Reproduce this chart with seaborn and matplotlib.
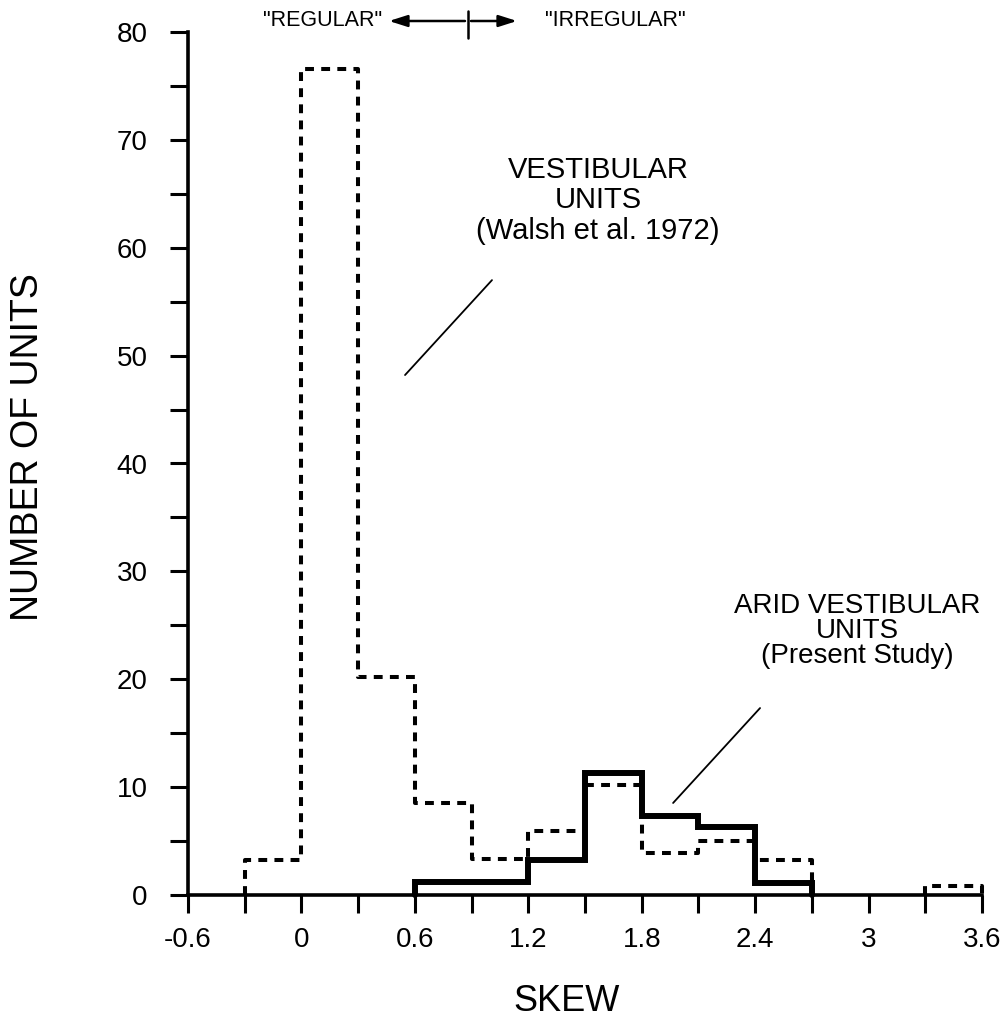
import numpy as np
import pandas as pd
import matplotlib
matplotlib.use("Agg")
import matplotlib.pyplot as plt
from matplotlib.lines import Line2D
import seaborn as sns

# ---- data ----
walsh_edges = [-0.3, 0.0, 0.3, 0.6, 0.9, 1.2, 1.5, 1.8, 2.1, 2.4, 2.7, 3.0, 3.3, 3.6]
walsh_counts = [3.2, 76.6, 20.2, 8.5, 3.3, 5.9, 10.2, 3.9, 5.0, 3.2, 0, 0, 0.8]
present_edges = [0.6, 0.9, 1.2, 1.5, 1.8, 2.1, 2.4, 2.7]
present_counts = [1.2, 1.2, 3.2, 11.3, 7.3, 6.3, 1.1]
x_ticks = [-0.6, -0.3, 0.0, 0.3, 0.6, 0.9, 1.2, 1.5, 1.8, 2.1, 2.4, 2.7, 3.0, 3.3, 3.6]
x_ticklabels = ["-0.6", "", "0", "", "0.6", "", "1.2", "", "1.8", "", "2.4", "", "3", "", "3.6"]
y_ticks = list(range(0, 81, 5))
y_ticklabels = [str(v) if v % 10 == 0 else "" for v in y_ticks]


def step_frame(edges, heights):
    """Outline of a histogram; runs of empty bins split the outline."""
    xs, ys, segs = [], [], []
    seg = 0
    i = 0
    n = len(heights)
    while i < n:
        if heights[i] == 0:
            i += 1
            continue
        j = i
        while j + 1 < n and heights[j + 1] != 0:
            j += 1
        px = [edges[i]]
        py = [0]
        for k in range(i, j + 1):
            px += [edges[k], edges[k + 1]]
            py += [heights[k], heights[k]]
        px.append(edges[j + 1])
        py.append(0)
        xs += px
        ys += py
        segs += [seg] * len(px)
        seg += 1
        i = j + 1
    return pd.DataFrame({"x": xs, "y": ys, "seg": segs})


walsh_df = step_frame(walsh_edges, walsh_counts)
present_df = step_frame(present_edges, present_counts)

sns.set_style("ticks")
plt.rcParams["font.family"] = ["Liberation Sans", "DejaVu Sans"]
plt.rcParams["text.color"] = "black"

W, H = 1008, 1021
fig = plt.figure(figsize=(W / 100, H / 100), dpi=100)
ax = fig.add_axes([188 / W, 1 - 895 / H, 794 / W, 863 / H])

sns.lineplot(data=walsh_df, x="x", y="y", units="seg", estimator=None, sort=False,
             color="black", linewidth=2.9, linestyle=(0, (2.2, 1.8)),
             dash_capstyle="butt", clip_on=False, ax=ax, zorder=3)
sns.lineplot(data=present_df, x="x", y="y", units="seg", estimator=None, sort=False,
             color="black", linewidth=4.3, solid_joinstyle="miter",
             clip_on=False, ax=ax, zorder=4)

ax.set_xlim(-0.6, 3.6)
ax.set_ylim(0, 80)
ax.set_xticks(x_ticks)
ax.set_xticklabels(x_ticklabels)
ax.set_yticks(y_ticks)
ax.set_yticklabels(y_ticklabels)
sns.despine(ax=ax)
for s in ["left", "bottom"]:
    ax.spines[s].set_linewidth(2.6)
    ax.spines[s].set_color("black")
ax.tick_params(axis="both", direction="out", length=13, width=2.2, color="black",
               labelsize=20, labelcolor="black")
ax.tick_params(axis="y", pad=16)
ax.tick_params(axis="x", pad=10)

ax.set_xlabel("SKEW", fontsize=26, color="black")
ax.set_ylabel("NUMBER OF UNITS", fontsize=27, color="black")
ax.xaxis.set_label_coords((567 - 188) / 794, (895 - 1001) / 863)
ax.xaxis.label.set_verticalalignment("center")
ax.yaxis.set_label_coords((28 - 188) / 794, (895 - 447) / 863)
ax.yaxis.label.set_verticalalignment("center")

# annotations
ax.text(1.569, 64.4, "VESTIBULAR\nUNITS\n(Walsh et al. 1972)", ha="center", va="center",
        fontsize=21, linespacing=1.12, color="black")
ax.annotate("", xy=(0.548, 48.2), xytext=(1.008, 57.0),
            arrowprops=dict(arrowstyle="-", lw=1.3, color="black", shrinkA=0, shrinkB=0))
ax.text(2.939, 24.5, "ARID VESTIBULAR\nUNITS\n(Present Study)", ha="center", va="center",
        fontsize=20, linespacing=0.95, color="black")
ax.annotate("", xy=(1.966, 8.53), xytext=(2.426, 17.33),
            arrowprops=dict(arrowstyle="-", lw=1.3, color="black", shrinkA=0, shrinkB=0))

# header
yc = 1 - 21 / H
fig.text(382 / W, yc, '"REGULAR"', ha="right", va="center", fontsize=15.5, color="black")
fig.text(545 / W, yc, '"IRREGULAR"', ha="left", va="center", fontsize=15.5, color="black")
fig.add_artist(Line2D([468 / W, 468 / W], [1 - 11 / H, 1 - 38 / H], color="black", lw=1.8))
ax.annotate("", xy=(389 / W, yc), xytext=(465 / W, yc), xycoords="figure fraction",
            textcoords="figure fraction",
            arrowprops=dict(arrowstyle="-|>,head_length=1.1,head_width=0.35", lw=1.8,
                            color="black", shrinkA=0, shrinkB=0), annotation_clip=False)
ax.annotate("", xy=(517 / W, yc), xytext=(471 / W, yc), xycoords="figure fraction",
            textcoords="figure fraction",
            arrowprops=dict(arrowstyle="-|>,head_length=1.1,head_width=0.35", lw=1.8,
                            color="black", shrinkA=0, shrinkB=0), annotation_clip=False)

legend = ax.get_legend()
if legend is not None:
    legend.remove()

fig.savefig("out.png", dpi=100, facecolor="white")
